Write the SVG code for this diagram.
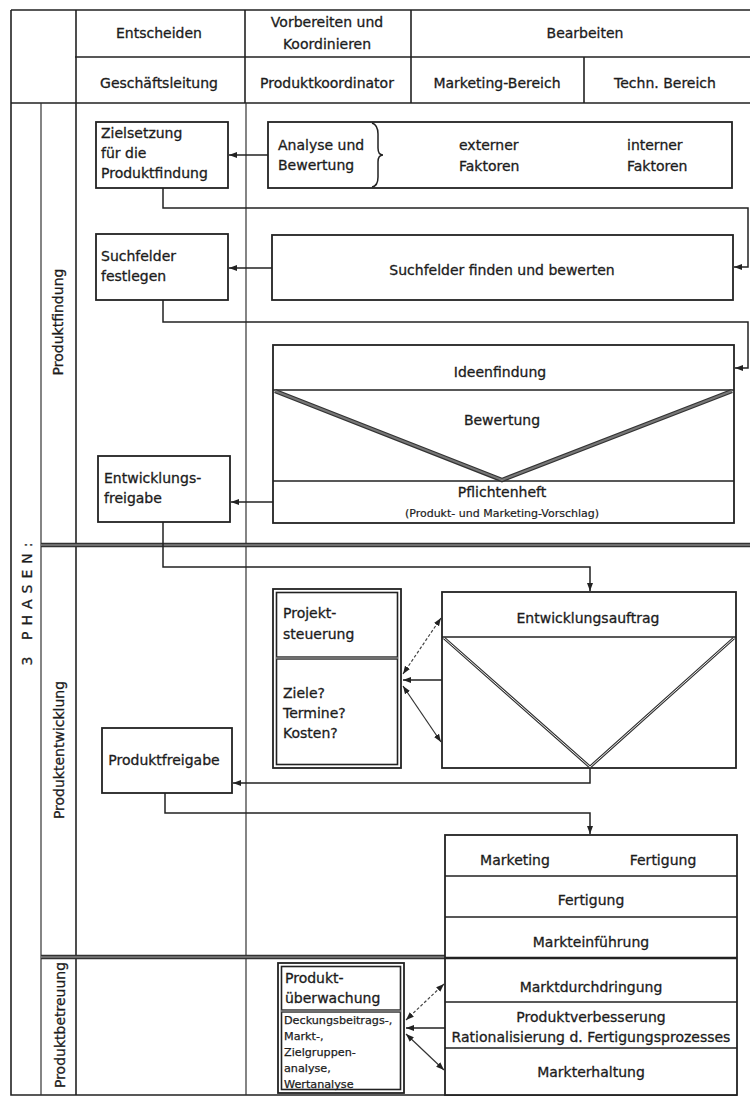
<svg xmlns="http://www.w3.org/2000/svg" width="750" height="1098" viewBox="0 0 750 1098">
  <style>
    .ln { stroke: #222; stroke-width: 1.6; fill: none; }
    .thin { stroke: #333; stroke-width: 1.2; fill: none; }
    .box { stroke: #222; stroke-width: 1.8; fill: #fff; }
    .cn { stroke: #222; stroke-width: 1.5; fill: none; }
    .dash { stroke: #444; stroke-width: 1.2; fill: none; stroke-dasharray: 3 2; }
    .heavy { stroke: #333; stroke-width: 4.5; fill: none; }
    .heavyin { stroke: #aaa; stroke-width: 1.2; fill: none; }
    .vdark { stroke: #333; stroke-width: 4.5; fill: none; }
    .vlight { stroke: #777; stroke-width: 2; fill: none; }
    text { font-family: "DejaVu Sans", "Liberation Sans", sans-serif; font-size: 14px; fill: #1c1c1c; stroke: #1c1c1c; stroke-width: 0.3; }
    .c { text-anchor: middle; }
    .sm { font-size: 11px; stroke-width: 0.2; }
    .s11 { font-size: 11.2px; stroke-width: 0.25; }
  </style>
  <defs>
    <marker id="ah" markerWidth="9" markerHeight="8" refX="8" refY="4" orient="auto-start-reverse" markerUnits="userSpaceOnUse">
      <path d="M0,1 L8,4 L0,7 z" fill="#222"/>
    </marker>
  </defs>

  <rect x="0" y="0" width="750" height="1098" fill="#fff"/>

  <!-- frame and header grid -->
  <g id="frame">
    <path class="ln" d="M11 10 H750 M75 57 H750 M11 103 H750"/>
    <path class="ln" d="M11 10 V1095 H737"/>
    <path class="ln" d="M76 10 V1095"/>
    <path class="ln" d="M245 10 V103"/>
    <path class="thin" d="M246 103 V1095"/>
    <path class="ln" d="M411 10 V103 M584 57 V103"/>
    <path class="thin" d="M41 103 V1095"/>
    <!-- phase separators -->
    <path class="heavy" d="M41 545 H750"/>
    <path class="heavyin" d="M41 545 H750"/>
    <path class="heavy" d="M41 957 H737"/>
    <path class="heavyin" d="M41 957 H737"/>
  </g>

  <g id="header">
    <text class="c" x="159" y="38">Entscheiden</text>
    <text class="c" x="327" y="27">Vorbereiten und</text>
    <text class="c" x="327" y="49">Koordinieren</text>
    <text class="c" x="585" y="38">Bearbeiten</text>
    <text class="c" x="159" y="88">Geschäftsleitung</text>
    <text class="c" x="327" y="88">Produktkoordinator</text>
    <text class="c" x="497" y="88">Marketing-Bereich</text>
    <text class="c" x="665" y="88">Techn. Bereich</text>
  </g>

  <!-- phase labels -->
  <g id="phases">
    <text class="c" x="32" y="601" transform="rotate(-90 32 601)" letter-spacing="6">3 PHASEN:</text>
    <text class="c" x="63" y="322" transform="rotate(-90 63 322)">Produktfindung</text>
    <text class="c" x="64" y="750" transform="rotate(-90 64 750)">Produktentwicklung</text>
    <text class="c" x="65" y="1025" transform="rotate(-90 65 1025)">Produktbetreuung</text>
  </g>

  <!-- connectors -->
  <g id="connectors">
    <path class="cn" d="M268 155 H229" marker-end="url(#ah)"/>
    <path class="cn" d="M163 188 V208 H748 V267 H734" marker-end="url(#ah)"/>
    <path class="cn" d="M272 268 H229" marker-end="url(#ah)"/>
    <path class="cn" d="M163 300 V322 H748 V368 H735" marker-end="url(#ah)"/>
    <path class="cn" d="M273 502 H231" marker-end="url(#ah)"/>
    <path class="cn" d="M163 522 V567 H590 V591" marker-end="url(#ah)"/>
    <path class="dash" d="M403 674 L441 618" marker-start="url(#ah)" marker-end="url(#ah)"/>
    <path class="cn" d="M442 680 H403" marker-end="url(#ah)"/>
    <path class="thin" d="M403 686 L441 742" marker-start="url(#ah)" marker-end="url(#ah)"/>
    <path class="cn" d="M590 768 V783 H233" marker-end="url(#ah)"/>
    <path class="cn" d="M165 793 V813 H590 V834" marker-end="url(#ah)"/>
    <path class="dash" d="M406 1020 L444 984" marker-start="url(#ah)" marker-end="url(#ah)"/>
    <path class="cn" d="M445 1028 H406" marker-end="url(#ah)"/>
    <path class="thin" d="M406 1034 L444 1070" marker-start="url(#ah)" marker-end="url(#ah)"/>
  </g>

  <!-- Produktfindung -->
  <g id="zielsetzung">
    <rect class="box" x="96" y="122" width="132" height="66"/>
    <text x="101" y="138">Zielsetzung</text>
    <text x="101" y="158">für die</text>
    <text x="101" y="178">Produktfindung</text>
  </g>

  <g id="analyse">
    <rect class="box" x="268" y="122" width="464" height="66"/>
    <path class="cn" d="M372 123 Q378 125 378 134 V148 Q378 155 383 155 Q378 155 378 162 V177 Q378 186 372 187"/>
    <text x="278" y="150">Analyse und</text>
    <text x="278" y="170">Bewertung</text>
    <text x="459" y="150">externer</text>
    <text x="459" y="171">Faktoren</text>
    <text x="627" y="150">interner</text>
    <text x="627" y="171">Faktoren</text>
  </g>

  <g id="suchfelder-festlegen">
    <rect class="box" x="96" y="234" width="132" height="66"/>
    <text x="101" y="261">Suchfelder</text>
    <text x="101" y="281">festlegen</text>
  </g>

  <g id="suchfelder-finden">
    <rect class="box" x="272" y="235" width="461" height="65"/>
    <text class="c" x="502" y="275">Suchfelder finden und bewerten</text>
  </g>

  <g id="ideenfindung">
    <rect class="box" x="273" y="345" width="461" height="178"/>
    <path class="ln" d="M273 390 H734 M273 481 H734"/>
    <path class="vdark" d="M275 391 L502 480 L732 391"/>
    <path class="vlight" d="M275 391 L502 480 L732 391"/>
    <text class="c" x="500" y="377">Ideenfindung</text>
    <text class="c" x="502" y="425">Bewertung</text>
    <text class="c" x="502" y="497">Pflichtenheft</text>
    <text class="c sm" x="502" y="517">(Produkt- und Marketing-Vorschlag)</text>
  </g>

  <g id="entwicklungsfreigabe">
    <rect class="box" x="98" y="456" width="132" height="66"/>
    <text x="104" y="483">Entwicklungs-</text>
    <text x="104" y="503">freigabe</text>
  </g>

  <!-- Produktentwicklung -->
  <g id="projektsteuerung">
    <rect class="box" x="273" y="589" width="128" height="179"/>
    <rect class="ln" x="276.5" y="592.5" width="121" height="172"/>
    <path class="heavy" d="M276 658 H398" style="stroke-width:3.5"/>
    <path class="heavyin" d="M276 658 H398"/>
    <text x="283" y="618">Projekt-</text>
    <text x="283" y="639">steuerung</text>
    <text x="283" y="698">Ziele?</text>
    <text x="283" y="718">Termine?</text>
    <text x="283" y="738">Kosten?</text>
  </g>

  <g id="entwicklungsauftrag">
    <rect class="box" x="442" y="592" width="294" height="176"/>
    <path class="ln" d="M442 637 H736"/>
    <path class="vdark" d="M444 638 L590 767 L734 638" style="stroke-width:3"/>
    <path class="vlight" d="M444 638 L590 767 L734 638" style="stroke:#eee;stroke-width:1"/>
    <text class="c" x="588" y="623">Entwicklungsauftrag</text>
  </g>

  <g id="produktfreigabe">
    <rect class="box" x="102" y="728" width="130" height="65"/>
    <text class="c" x="164" y="765">Produktfreigabe</text>
  </g>

  <!-- Markteinführung und Produktbetreuung -->
  <g id="markt">
    <rect class="box" x="445" y="835" width="292" height="260"/>
    <path class="ln" d="M445 876 H737 M445 917 H737 M445 1002 H737 M445 1048 H737"/>
    <path class="ln" d="M445 958 H737" style="stroke-width:2.5"/>
    <text class="c" x="515" y="865">Marketing</text>
    <text class="c" x="663" y="865">Fertigung</text>
    <text class="c" x="591" y="905">Fertigung</text>
    <text class="c" x="591" y="947">Markteinführung</text>
    <text class="c" x="591" y="992">Marktdurchdringung</text>
    <text class="c" x="591" y="1022">Produktverbesserung</text>
    <text class="c" x="591" y="1042">Rationalisierung d. Fertigungsprozesses</text>
    <text class="c" x="591" y="1077">Markterhaltung</text>
  </g>

  <g id="produktueberwachung">
    <rect class="box" x="278" y="963" width="126" height="130"/>
    <rect class="ln" x="281.5" y="966.5" width="119" height="123"/>
    <path class="heavy" d="M281 1011 H401" style="stroke-width:3.5"/>
    <path class="heavyin" d="M281 1011 H401"/>
    <text x="285" y="983">Produkt-</text>
    <text x="285" y="1003">überwachung</text>
    <text class="s11" x="284" y="1024">Deckungsbeitrags-,</text>
    <text class="s11" x="284" y="1040">Markt-,</text>
    <text class="s11" x="284" y="1056">Zielgruppen-</text>
    <text class="s11" x="284" y="1072">analyse,</text>
    <text class="s11" x="284" y="1088">Wertanalyse</text>
  </g>
</svg>
